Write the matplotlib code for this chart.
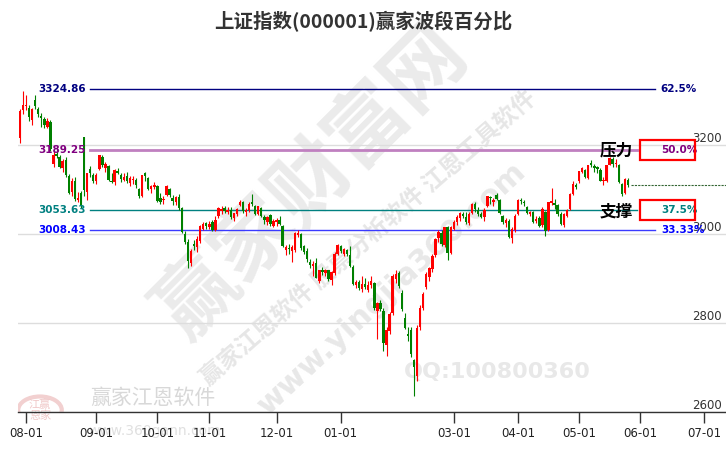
import matplotlib
matplotlib.use('Agg')
import matplotlib.pyplot as plt
import matplotlib.transforms as mtransforms
from matplotlib.patches import Rectangle, Circle
import numpy as np

plt.rcParams['font.family'] = ['DejaVu Sans', 'Noto Sans CJK SC']

# daily candles, 2023-07-28 .. 2024-05-28 (trading-day index on x)
opens = [3216, 3278, 3288, 3284, 3256, 3300, 3282, 3265, 3258, 3241,
         3252, 3158, 3180, 3172, 3148, 3166, 3130, 3095, 3118, 3076,
         3092, 3219, 3094, 3145, 3132, 3118, 3145, 3172, 3148, 3152,
         3120, 3116, 3142, 3132, 3122, 3130, 3115, 3122, 3122, 3100,
         3086, 3136, 3126, 3100, 3106, 3108, 3082, 3076, 3088, 3100,
         3082, 3072, 3084, 3058, 3000, 2982, 2935, 2978, 2970, 2985,
         3012, 3024, 3016, 3026, 3010, 3040, 3052, 3058, 3050, 3054,
         3036, 3046, 3066, 3072, 3050, 3054, 3072, 3062, 3045, 3058,
         3038, 3028, 3042, 3019, 3026, 3032, 3018, 2965, 2968, 2962,
         2965, 2998, 3000, 2972, 2962, 2938, 2928, 2935, 2895, 2918,
         2912, 2918, 2897, 2912, 2956, 2972, 2955, 2965, 2952, 2926,
         2886, 2893, 2876, 2888, 2875, 2885, 2890, 2828, 2846, 2828,
         2750, 2782, 2822, 2898, 2912, 2868, 2812, 2775, 2784, 2716,
         2680, 2790, 2834, 2881, 2903, 2922, 2952, 2991, 3002, 2976,
         3016, 2958, 3012, 3027, 3036, 3046, 3038, 3025, 3048, 3068,
         3054, 3044, 3038, 3062, 3084, 3072, 3088, 3076, 3040, 3024,
         3030, 2990, 3010, 3046, 3077, 3072, 3060, 3044, 3050, 3030,
         3036, 3020, 3050, 3010, 3070, 3070, 3066, 3046, 3020, 3040,
         3056, 3090, 3110, 3118, 3140, 3144, 3126, 3160, 3152, 3150,
         3144, 3118, 3120, 3156, 3168, 3158, 3154, 3112, 3092, 3122]
highs = [3282, 3322, 3312, 3290, 3284, 3312, 3286, 3272, 3264, 3260,
         3256, 3186, 3194, 3178, 3168, 3172, 3134, 3125, 3128, 3094,
         3096, 3219, 3137, 3153, 3138, 3136, 3178, 3178, 3162, 3156,
         3138, 3145, 3148, 3136, 3138, 3140, 3130, 3130, 3126, 3104,
         3133, 3140, 3128, 3110, 3116, 3110, 3092, 3086, 3110, 3104,
         3088, 3086, 3090, 3060, 3006, 2988, 2966, 2986, 2996, 3020,
         3028, 3028, 3030, 3032, 3040, 3060, 3062, 3064, 3060, 3060,
         3048, 3058, 3076, 3074, 3058, 3072, 3090, 3066, 3064, 3060,
         3042, 3040, 3046, 3034, 3036, 3040, 3020, 2976, 2978, 2976,
         3005, 3010, 3002, 2976, 2968, 2944, 2940, 2946, 2920, 2925,
         2922, 2920, 2917, 2960, 2978, 2976, 2968, 2967, 2972, 2930,
         2897, 2896, 2905, 2900, 2895, 2905, 2893, 2848, 2852, 2834,
         2790, 2825, 2910, 2918, 2916, 2875, 2822, 2792, 2790, 2720,
         2795, 2840, 2870, 2914, 2925, 2955, 2990, 3010, 3008, 3016,
         3018, 3018, 3032, 3042, 3050, 3050, 3050, 3050, 3070, 3072,
         3060, 3050, 3058, 3086, 3086, 3082, 3092, 3078, 3042, 3036,
         3034, 3016, 3044, 3078, 3080, 3076, 3064, 3052, 3052, 3040,
         3040, 3060, 3052, 3072, 3104, 3078, 3068, 3050, 3048, 3056,
         3092, 3120, 3114, 3142, 3150, 3146, 3156, 3166, 3158, 3152,
         3148, 3128, 3156, 3174, 3172, 3168, 3158, 3114, 3126, 3126]
lows = [3205, 3270, 3278, 3255, 3245, 3282, 3262, 3240, 3238, 3238,
        3186, 3150, 3170, 3148, 3140, 3128, 3090, 3085, 3075, 3072,
        3058, 3086, 3076, 3128, 3114, 3112, 3143, 3150, 3140, 3120,
        3114, 3110, 3134, 3116, 3120, 3114, 3108, 3112, 3104, 3080,
        3083, 3120, 3098, 3092, 3100, 3072, 3068, 3068, 3085, 3084,
        3066, 3066, 3054, 3002, 2978, 2923, 2928, 2965, 2960, 2980,
        3008, 3012, 3012, 3006, 3006, 3036, 3046, 3048, 3044, 3034,
        3030, 3040, 3062, 3048, 3040, 3050, 3064, 3042, 3042, 3038,
        3022, 3020, 3018, 3015, 3018, 3020, 2970, 2952, 2956, 2938,
        2960, 2994, 2965, 2955, 2938, 2924, 2906, 2900, 2890, 2908,
        2905, 2895, 2886, 2908, 2952, 2958, 2950, 2950, 2925, 2885,
        2878, 2874, 2870, 2876, 2870, 2878, 2830, 2764, 2828, 2736,
        2725, 2776, 2818, 2890, 2878, 2828, 2786, 2760, 2724, 2635,
        2670, 2785, 2830, 2876, 2895, 2915, 2948, 2982, 2972, 2970,
        2942, 2955, 3008, 3020, 3030, 3036, 3022, 3020, 3044, 3050,
        3040, 3036, 3030, 3060, 3068, 3062, 3076, 3046, 3022, 3016,
        2990, 2980, 3005, 3042, 3068, 3062, 3046, 3040, 3024, 3024,
        3016, 3016, 2996, 3006, 3066, 3056, 3040, 3020, 3016, 3038,
        3054, 3088, 3100, 3114, 3136, 3126, 3124, 3150, 3140, 3138,
        3118, 3110, 3116, 3154, 3150, 3150, 3114, 3086, 3090, 3106]
closes = [3276, 3291, 3291, 3262, 3280, 3288, 3269, 3261, 3244, 3255,
          3190, 3178, 3176, 3150, 3164, 3132, 3093, 3120, 3078, 3082,
          3064, 3099, 3136, 3137, 3120, 3133, 3177, 3154, 3158, 3122,
          3117, 3143, 3137, 3123, 3127, 3118, 3126, 3124, 3109, 3085,
          3132, 3130, 3102, 3107, 3110, 3075, 3073, 3079, 3108, 3088,
          3074, 3084, 3059, 3005, 2983, 2939, 2962, 2974, 2988, 3018,
          3022, 3019, 3023, 3009, 3031, 3058, 3057, 3052, 3053, 3039,
          3047, 3056, 3073, 3051, 3054, 3068, 3068, 3044, 3062, 3041,
          3032, 3039, 3022, 3030, 3032, 3023, 2972, 2970, 2966, 2970,
          3003, 3003, 2969, 2959, 2943, 2931, 2932, 2902, 2919, 2915,
          2919, 2899, 2915, 2955, 2975, 2962, 2967, 2954, 2929, 2888,
          2893, 2878, 2887, 2882, 2886, 2894, 2834, 2846, 2832, 2756,
          2784, 2821, 2906, 2910, 2883, 2831, 2789, 2771, 2730, 2702,
          2789, 2834, 2866, 2911, 2923, 2951, 2988, 3005, 2977, 3015,
          2958, 3015, 3027, 3039, 3048, 3040, 3027, 3046, 3068, 3056,
          3044, 3038, 3055, 3085, 3080, 3077, 3078, 3048, 3026, 3031,
          2993, 3011, 3041, 3077, 3075, 3069, 3047, 3049, 3027, 3034,
          3019, 3057, 3007, 3071, 3074, 3065, 3045, 3022, 3045, 3053,
          3089, 3113, 3105, 3141, 3148, 3128, 3154, 3155, 3148, 3146,
          3120, 3122, 3154, 3171, 3158, 3159, 3116, 3089, 3124, 3110]

# month ticks (trading-day index of first session of each month)
tick_idx = [2, 25, 45, 62, 84, 105, 142, 163, 183, 203, 224]
tick_labels = ['08-01', '09-01', '10-01', '11-01', '12-01', '01-01',
               '03-01', '04-01', '05-01', '06-01', '07-01']

# winner band levels
levels = [3324.86, 3189.25, 3053.63, 3008.43]
level_pcts = ['62.5%', '50.0%', '37.5%', '33.33%']
label_colors = ['#000080', '#800080', '#008080', '#0000ff']
line_colors = ['#000080', '#c080c0', '#008080', '#3a3aff']
boxed = [False, True, True, False]

fig = plt.figure(figsize=(7.26, 4.5), dpi=100)
ax = fig.add_axes([18 / 726, 38 / 450, 708 / 726, 352 / 450])
ax.set_xlim(-0.62, 231.1)
ax.set_ylim(2600, 3391)

cjk = ['Noto Sans CJK SC', 'DejaVu Sans']

# watermarks
ax.text(312 / 726, 1 - 183 / 450, '赢家财富网', transform=fig.transFigure,
        rotation=45, ha='center', va='center', rotation_mode='anchor',
        fontsize=58, fontweight='bold', color='#ebebeb', family=cjk, zorder=0)
ax.text(368 / 726, 1 - 238 / 450, '赢家江恩软件 股票分析软件 江恩工具软件',
        transform=fig.transFigure, rotation=41, ha='center', va='center',
        rotation_mode='anchor', fontsize=17, fontweight='bold',
        color='#e6e6e6', family=cjk, zorder=0)
ax.text(392 / 726, 1 - 288 / 450, 'www.yingjia360.com', transform=fig.transFigure,
        rotation=43, ha='center', va='center', rotation_mode='anchor',
        fontsize=22, fontweight='bold', color='#e8e8e8', zorder=0)
ax.text(497 / 726, 1 - 372 / 450, 'QQ:100800360', transform=fig.transFigure,
        ha='center', va='center', fontsize=16, fontweight='bold',
        color='#e8e8e8', zorder=0)
ax.add_patch(Circle((40 / 726, 1 - 410 / 450), 0.03, transform=fig.transFigure,
                    fill=False, edgecolor='#f2d0d0', lw=3, zorder=0))
ax.text(40 / 726, 1 - 410 / 450, '江赢\n恩家', transform=fig.transFigure,
        ha='center', va='center', fontsize=8, color='#f0c8c8', family=cjk,
        linespacing=1.0, zorder=0)
ax.text(153 / 726, 1 - 398 / 450, '赢家江恩软件', transform=fig.transFigure,
        ha='center', va='center', fontsize=15, color='#d8d8d8', family=cjk, zorder=0)
ax.text(155 / 726, 1 - 431 / 450, 'www.360gann.com', transform=fig.transFigure,
        ha='center', va='center', fontsize=10, color='#e0e0e0', zorder=0)

# grid
ax.set_yticks([2600, 2800, 3000, 3200])
ax.yaxis.grid(True, color='#dddddd', lw=1, zorder=1)
ax.set_axisbelow(True)

# candles
x = np.arange(len(closes))
o = np.array(opens, dtype=float)
h = np.array(highs, dtype=float)
l = np.array(lows, dtype=float)
c = np.array(closes, dtype=float)
cols = np.where(c >= o, '#ff0000', '#008000')
ax.vlines(x, l, h, colors=cols, lw=0.8, zorder=3)
ax.bar(x, np.maximum(np.abs(c - o), 1.5), bottom=np.minimum(o, c), width=0.78,
       color=cols, linewidth=0, zorder=4)

# last close dotted line
ax.plot([x[-1] + 1, 231.1], [c[-1], c[-1]], color='#336633', lw=0.8,
        ls=(0, (2, 1)), zorder=3)

# levels
tr = mtransforms.blended_transform_factory(ax.transAxes, ax.transData)
for lv, pct, lc, tc, bx in zip(levels, level_pcts, line_colors, label_colors, boxed):
    x_end = 0.874 if bx else 0.8997
    ax.plot([0.1017, x_end], [lv, lv], transform=tr, color=lc,
            lw=2 if lc == '#c080c0' else 1, zorder=2)
    ax.text(0.096, lv, f'{lv:.2f}', transform=tr, ha='right', va='center',
            fontsize=7.5, fontweight='bold', color=tc, zorder=5)
    ax.text(0.908, lv, pct, transform=tr, ha='left', va='center',
            fontsize=7.5, fontweight='bold', color=tc, zorder=5)
    if bx:
        ax.add_patch(Rectangle((0.8785, lv - 23), 0.0777, 46, transform=tr,
                               fill=False, edgecolor='#ff0000', lw=1.6, zorder=5))

ax.text(0.8686, levels[1] - 2, '压力', transform=tr, ha='right', va='center',
        fontsize=12, fontweight='bold', color='black', family=cjk, zorder=6)
ax.text(0.8686, levels[2] - 2, '支撑', transform=tr, ha='right', va='center',
        fontsize=12, fontweight='bold', color='black', family=cjk, zorder=6)

# axes styling
for s in ['left', 'top', 'right']:
    ax.spines[s].set_visible(False)
ax.spines['bottom'].set_color('#333333')
ax.spines['bottom'].set_linewidth(1)
ax.set_xticks(tick_idx)
ax.set_xticklabels(tick_labels)
ax.tick_params(axis='x', direction='out', length=8, width=1, color='#333333',
               labelsize=8.5, labelcolor='#222222', pad=3)
ax.yaxis.tick_right()
ax.tick_params(axis='y', length=0, pad=-3, labelsize=8.5, labelcolor='#333333')
plt.setp(ax.get_yticklabels(), ha='right', va='bottom')

fig.text(0.5, 1 - 22 / 450, '上证指数(000001)赢家波段百分比', ha='center', va='center',
         fontsize=14, fontweight='bold', color='#333333', family=cjk)

fig.savefig('out.png', dpi=100)
